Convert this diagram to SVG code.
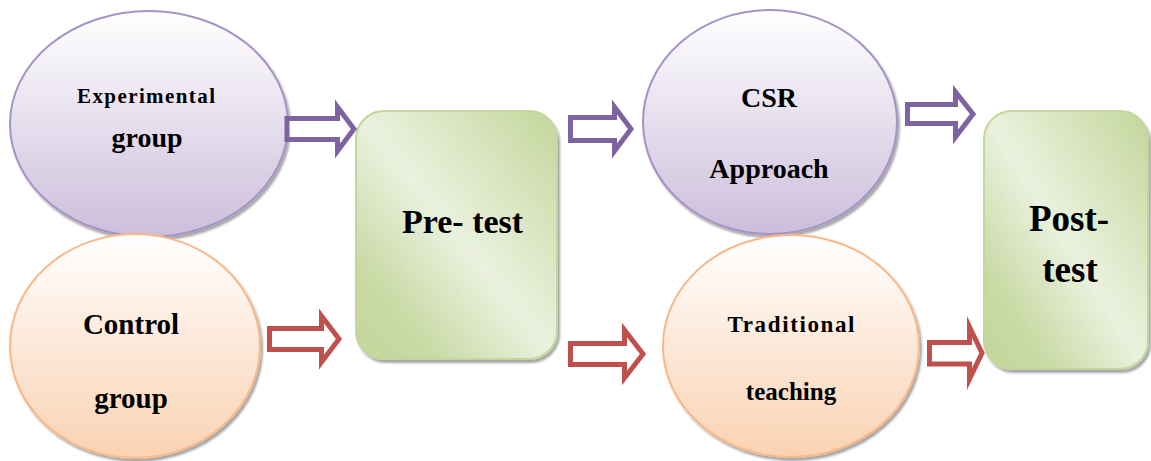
<svg xmlns="http://www.w3.org/2000/svg" width="1151" height="461" viewBox="0 0 1151 461">
<defs>
<linearGradient id="gPurple" x1="0" y1="0" x2="0" y2="1">
<stop offset="0" stop-color="#FFFFFF"/><stop offset="1" stop-color="#CCBEDB"/>
</linearGradient>
<linearGradient id="gOrange" x1="0" y1="0" x2="0" y2="1">
<stop offset="0" stop-color="#FFFFFF"/><stop offset="1" stop-color="#FAD2B2"/>
</linearGradient>
<linearGradient id="gGreen" x1="1" y1="0" x2="0" y2="1">
<stop offset="0" stop-color="#C3D69B"/><stop offset="0.5" stop-color="#EBF1DE"/><stop offset="0.8" stop-color="#C9DAA6"/><stop offset="1" stop-color="#C3D69B"/>
</linearGradient>
<filter id="sh" x="-10%" y="-10%" width="125%" height="125%">
<feDropShadow dx="2" dy="3" stdDeviation="1.2" flood-color="#000" flood-opacity="0.35"/>
</filter>
</defs>
<style>
.ep{fill:url(#gPurple);stroke:#A692C6;stroke-width:2;filter:url(#sh)}
.eo{fill:url(#gOrange);stroke:#F8B887;stroke-width:2;filter:url(#sh)}
.rg{fill:url(#gGreen);stroke:#C3D69B;stroke-width:2;filter:url(#sh)}
.t{font-family:"Liberation Serif","Times New Roman",serif;font-weight:bold;fill:#000;text-anchor:middle}
.ap{fill:#FFFFFF;stroke:#7F63A1;stroke-width:5;stroke-miterlimit:10}
.ar{fill:#FFFFFF;stroke:#C0504D;stroke-width:5;stroke-miterlimit:10}
</style>
<g id="experimental">
<ellipse class="ep" cx="149" cy="124" rx="139" ry="113"/>
<text class="t" x="146" y="103" font-size="21" textLength="138" lengthAdjust="spacing">Experimental</text>
<text class="t" x="147" y="147" font-size="28">group</text>
</g>
<g id="csr">
<ellipse class="ep" cx="770" cy="122" rx="127" ry="112"/>
<text class="t" x="769" y="107" font-size="28">CSR</text>
<text class="t" x="769" y="178" font-size="28">Approach</text>
</g>
<g id="control">
<ellipse class="eo" cx="135" cy="346" rx="125" ry="112"/>
<text class="t" x="131" y="334" font-size="29">Control</text>
<text class="t" x="131" y="408" font-size="29">group</text>
</g>
<g id="traditional">
<ellipse class="eo" cx="791" cy="346" rx="128" ry="111"/>
<text class="t" x="791" y="332" font-size="23" textLength="127" lengthAdjust="spacing">Traditional</text>
<text class="t" x="791" y="400" font-size="25">teaching</text>
</g>
<g id="pretest">
<rect class="rg" x="356" y="111" width="201" height="248" rx="28"/>
<text class="t" x="402" y="233" font-size="34" text-anchor="start" style="text-anchor:start">Pre- test</text>
</g>
<g id="posttest">
<rect class="rg" x="984" y="111" width="164" height="258" rx="28"/>
<text class="t" x="1069" y="231" font-size="37">Post-</text>
<text class="t" x="1070" y="282" font-size="37">test</text>
</g>
<g id="connectors">
<polygon class="ap" points="287,118.5 337.5,118.5 337.5,107 354,129 337.5,151 337.5,139.5 287,139.5"/>
<polygon class="ap" points="570.5,117.5 614.5,117.5 614.5,107 631,129 614.5,151 614.5,140.5 570.5,140.5"/>
<polygon class="ap" points="907.5,104.5 955.5,104.5 955.5,92 973,114 955.5,137 955.5,123.5 907.5,123.5"/>
<polygon class="ar" points="269.5,328.5 321.5,328.5 321.5,316 339,339 321.5,362 321.5,349.5 269.5,349.5"/>
<polygon class="ar" points="570.5,343.5 624.5,343.5 624.5,330 643,354 624.5,378 624.5,364.5 570.5,364.5"/>
<polygon class="ar" points="929.5,342.5 969.5,342.5 969.5,327 982,353 969.5,379 969.5,364 929.5,364"/>
</g>
</svg>
